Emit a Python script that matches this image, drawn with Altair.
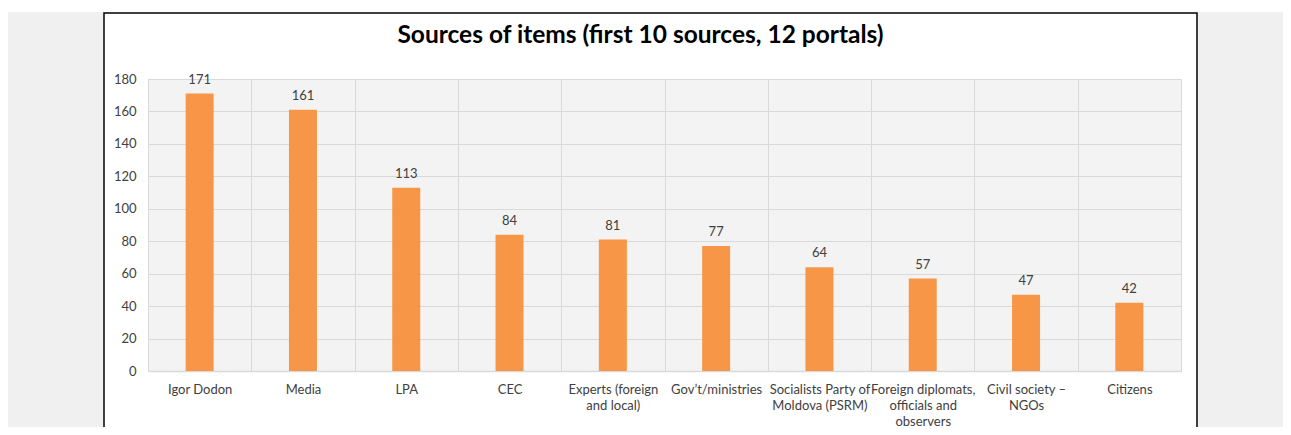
import altair as alt
import pandas as pd

categories = ["Igor Dodon", "Media", "LPA", "CEC", "Experts (foreign and local)",
              "Gov\u2019t/ministries", "Socialists Party of Moldova (PSRM)",
              "Foreign diplomats, officials and observers", "Civil society \u2013 NGOs", "Citizens"]
label_lines = [["Igor Dodon"], ["Media"], ["LPA"], ["CEC"], ["Experts (foreign", "and local)"],
               ["Gov\u2019t/ministries"], ["Socialists Party of", "Moldova (PSRM)"],
               ["Foreign diplomats,", "officials and", "observers"], ["Civil society \u2013", "NGOs"],
               ["Citizens"]]
values = [171, 161, 113, 84, 81, 77, 64, 57, 47, 42]
y_ticks = [0, 20, 40, 60, 80, 100, 120, 140, 160, 180]
title_text = "Sources of items (first 10 sources, 12 portals)"

FONT = "Lato"
TXT = "#404040"
GRID = "#d9d9d9"
W, H = 1033, 292

df = pd.DataFrame({"source": categories, "count": values})

label_expr = ""
for c, lines in zip(categories, label_lines):
    arr = "[" + ",".join("'" + l.replace("'", "\\'") + "'" for l in lines) + "]"
    cesc = c.replace("'", "\\'")
    label_expr += f"datum.label == '{cesc}' ? {arr} : "
label_expr += "datum.label"

x = alt.X("source:N", sort=categories, title=None,
          scale=alt.Scale(paddingInner=0, paddingOuter=0),
          axis=alt.Axis(labelAngle=0, labelExpr=label_expr, labelFont=FONT, labelFontSize=13,
                        labelColor=TXT, labelPadding=12, labelLineHeight=16, labelBaseline="top",
                        ticks=False, domain=True, domainColor=GRID, domainWidth=1.5,
                        grid=True, gridColor=GRID, gridWidth=1, tickBand="extent",
                        labelLimit=200, labelOverlap=False))
y = alt.Y("count:Q", title=None,
          scale=alt.Scale(domain=[0, 180], nice=False),
          axis=alt.Axis(values=y_ticks, labelFont=FONT, labelFontSize=13, labelColor=TXT,
                        labelPadding=12, ticks=False, domain=False, grid=True,
                        gridColor=GRID, gridWidth=1, labelOverlap=False))

frame_df = pd.DataFrame({"k": [0]})
left_strip = alt.Chart(frame_df).mark_rect(color="#f0f0f0", clip=False).encode(
    x=alt.value(-140), x2=alt.value(-44), y=alt.value(-67), y2=alt.value(360))
right_strip = alt.Chart(frame_df).mark_rect(color="#f0f0f0", clip=False).encode(
    x=alt.value(1049), x2=alt.value(1143), y=alt.value(-67), y2=alt.value(360))
border = alt.Chart(frame_df).mark_rect(filled=False, stroke="#000000", strokeWidth=1.5,
                                       clip=False).encode(
    x=alt.value(-44), x2=alt.value(1049), y=alt.value(-66), y2=alt.value(400))

bars = alt.Chart(df).mark_bar(color="#f79646", width=28).encode(x=x, y=y)
labels = alt.Chart(df).mark_text(font=FONT, fontSize=13, color=TXT, dy=-10,
                                 baseline="alphabetic").encode(x=x, y=y, text="count:Q")

chart = alt.layer(left_strip, right_strip, border, bars, labels).properties(
    width=W, height=H,
    title=alt.Title(title_text, font=FONT, fontSize=24.5, fontWeight="bold", color="#000000",
                    anchor="middle", dx=-24, offset=-55, frame="group", baseline="alphabetic"),
    autosize=alt.AutoSizeParams(type="none"),
    padding={"left": 140, "top": 71, "right": 102, "bottom": 56},
    background="#ffffff",
).configure_view(fill="#f3f3f3", stroke=None)

chart.save("out.html", embed_options={"renderer": "svg", "actions": False})
